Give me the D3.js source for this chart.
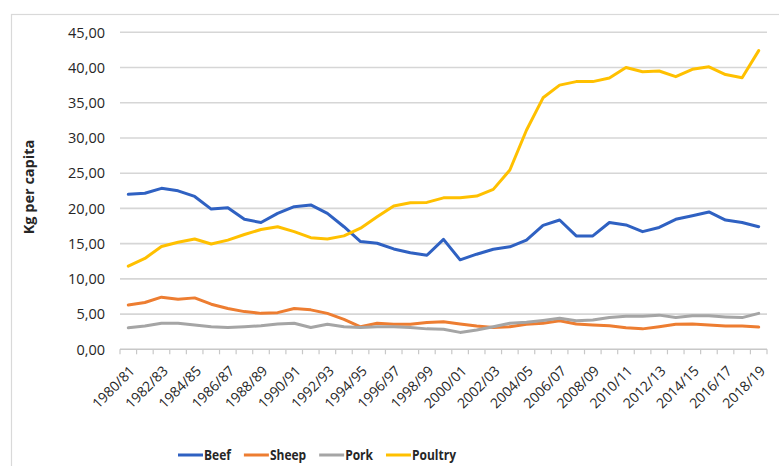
<!DOCTYPE html>
<html>
<head>
<meta charset="utf-8">
<script src="https://cdn.jsdelivr.net/npm/d3@7"></script>
<style>
  html, body { margin: 0; padding: 0; background: #fff; }
  svg { display: block; }
  .tick-y { font-family: "Open Sans", sans-serif; font-size: 14.5px; fill: #262626; }
  .tick-x { font-family: "Open Sans", sans-serif; font-size: 14px; fill: #262626; }
  .ytitle { font-family: "Open Sans", sans-serif; font-size: 14.5px; font-weight: 700; fill: #262626; }
  .legend { font-family: "Open Sans", sans-serif; font-size: 15px; font-weight: 700; fill: #262626; }
</style>
</head>
<body>
<svg id="chart" width="779" height="466"></svg>
<script>
// Marketing years
const categories = [
  "1980/81","1981/82","1982/83","1983/84","1984/85","1985/86","1986/87","1987/88",
  "1988/89","1989/90","1990/91","1991/92","1992/93","1993/94","1994/95","1995/96",
  "1996/97","1997/98","1998/99","1999/00","2000/01","2001/02","2002/03","2003/04",
  "2004/05","2005/06","2006/07","2007/08","2008/09","2009/10","2010/11","2011/12",
  "2012/13","2013/14","2014/15","2015/16","2016/17","2017/18","2018/19"
];

// Per-capita consumption, kg
const beef = [22.0, 22.15, 22.85, 22.5, 21.7, 19.9, 20.1, 18.45, 18.0, 19.3,
  20.25, 20.5, 19.3, 17.4, 15.3, 15.05, 14.25, 13.7, 13.35, 15.6,
  12.7, 13.5, 14.2, 14.55, 15.5, 17.6, 18.35, 16.1, 16.1, 18.0,
  17.65, 16.7, 17.3, 18.45, 18.95, 19.5, 18.35, 18.0, 17.4];
const sheep = [6.3, 6.65, 7.4, 7.1, 7.3, 6.4, 5.8, 5.35, 5.1, 5.2,
  5.8, 5.6, 5.1, 4.25, 3.2, 3.7, 3.55, 3.55, 3.8, 3.9,
  3.6, 3.3, 3.1, 3.2, 3.55, 3.7, 4.05, 3.6, 3.45, 3.35,
  3.05, 2.9, 3.2, 3.55, 3.6, 3.45, 3.3, 3.3, 3.15];
const pork = [3.05, 3.3, 3.7, 3.7, 3.45, 3.2, 3.1, 3.2, 3.35, 3.6,
  3.7, 3.1, 3.55, 3.2, 3.1, 3.2, 3.2, 3.1, 2.9, 2.85,
  2.4, 2.75, 3.2, 3.7, 3.85, 4.1, 4.4, 4.05, 4.15, 4.5,
  4.7, 4.7, 4.85, 4.5, 4.75, 4.75, 4.6, 4.5, 5.1];
const poultry = [11.8, 12.9, 14.6, 15.2, 15.65, 14.95, 15.5, 16.3, 17.0, 17.4,
  16.7, 15.85, 15.65, 16.1, 17.2, 18.8, 20.35, 20.8, 20.85, 21.5,
  21.5, 21.75, 22.7, 25.45, 31.1, 35.7, 37.5, 38.0, 38.0, 38.5,
  40.0, 39.4, 39.5, 38.7, 39.75, 40.1, 39.0, 38.55, 42.4];

const seriesNames = ["Beef", "Sheep", "Pork", "Poultry"];
const seriesColors = ["#2f61c2", "#ed7d31", "#a5a5a5", "#ffc000"];
const seriesValues = [beef, sheep, pork, poultry];

const yTicks = [0, 5, 10, 15, 20, 25, 30, 35, 40, 45];

const svg = d3.select("#chart");
const plot = { left: 120, right: 767, top: 32.3, bottom: 349.3 };

// Frame around the chart area
svg.append("rect")
  .attr("x", 11.5).attr("y", 14.5)
  .attr("width", 820).attr("height", 520)
  .attr("fill", "none").attr("stroke", "#d9d9d9").attr("stroke-width", 1.2);

const x = d3.scaleBand().domain(categories).range([plot.left, plot.right]).padding(0);
const y = d3.scaleLinear().domain([0, 45]).range([plot.bottom, plot.top]);

const locale = d3.formatLocale({ decimal: ",", thousands: ".", grouping: [3], currency: ["", ""] });
const fmt = locale.format(".2f");

// Horizontal gridlines
svg.append("g")
  .selectAll("line")
  .data(yTicks.filter(d => d > 0))
  .join("line")
  .attr("x1", plot.left).attr("x2", plot.right)
  .attr("y1", d => y(d)).attr("y2", d => y(d))
  .attr("stroke", "#d6d6d6").attr("stroke-width", 1.6);

// Y tick labels
svg.append("g")
  .selectAll("text")
  .data(yTicks)
  .join("text")
  .attr("class", "tick-y")
  .attr("x", 105)
  .attr("y", d => y(d))
  .attr("dy", "0.36em")
  .attr("text-anchor", "end")
  .text(d => fmt(d));

// Y axis title
svg.append("text")
  .attr("class", "ytitle")
  .attr("transform", `translate(34, 187) rotate(-90)`)
  .attr("text-anchor", "middle")
  .text("Kg per capita");

// X axis baseline and category boundary ticks
const xAxisG = svg.append("g");
xAxisG.append("line")
  .attr("x1", plot.left).attr("x2", plot.right)
  .attr("y1", plot.bottom).attr("y2", plot.bottom)
  .attr("stroke", "#c8c8c8").attr("stroke-width", 1.6);
const boundaries = categories.map(c => x(c)).concat([x(categories[categories.length - 1]) + x.bandwidth()]);
xAxisG.selectAll("line.tk")
  .data(boundaries)
  .join("line")
  .attr("class", "tk")
  .attr("x1", d => d).attr("x2", d => d)
  .attr("y1", plot.bottom).attr("y2", plot.bottom + 5)
  .attr("stroke", "#c8c8c8").attr("stroke-width", 1.2);

// Category labels, every second year
xAxisG.selectAll("text")
  .data(categories.filter((c, i) => i % 2 === 0))
  .join("text")
  .attr("class", "tick-x")
  .attr("text-anchor", "end")
  .attr("dy", "0.35em")
  .attr("transform", d => `translate(${x(d) + x.bandwidth() / 2 + 4}, ${plot.bottom + 19}) rotate(-45)`)
  .text(d => d);

// Series lines
const line = d3.line()
  .x((d, i) => x(categories[i]) + x.bandwidth() / 2)
  .y(d => y(d));

svg.append("g")
  .selectAll("path")
  .data(seriesValues)
  .join("path")
  .attr("d", d => line(d))
  .attr("fill", "none")
  .attr("stroke", (d, i) => seriesColors[i])
  .attr("stroke-width", 3)
  .attr("stroke-linejoin", "round")
  .attr("stroke-linecap", "round");

// Legend (condensed bold labels)
const legend = svg.append("g");
const squeeze = 0.8;
let lx = 178;
const ly = 455;
seriesNames.forEach((name, i) => {
  legend.append("line")
    .attr("x1", lx).attr("x2", lx + 25)
    .attr("y1", ly).attr("y2", ly)
    .attr("stroke", seriesColors[i]).attr("stroke-width", 3);
  const t = legend.append("text")
    .attr("class", "legend")
    .attr("transform", `translate(${lx + 26}, ${ly}) scale(${squeeze}, 1)`)
    .attr("dy", "0.36em")
    .text(name);
  lx += 26 + t.node().getComputedTextLength() * squeeze + 13;
});
</script>
</body>
</html>
